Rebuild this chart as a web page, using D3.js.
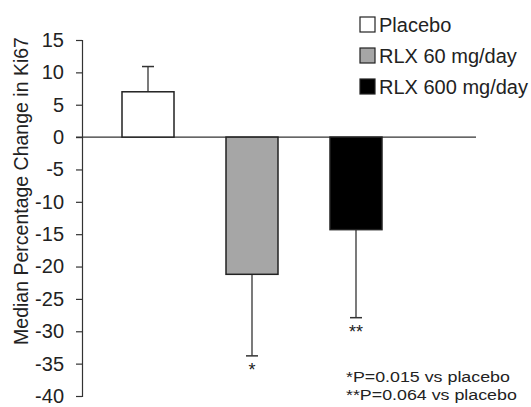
<!DOCTYPE html>
<html lang="en">
<head>
<meta charset="UTF-8">
<title>Median Percentage Change in Ki67</title>
<script src="https://d3js.org/d3.v7.min.js"></script>
<style>
    body { margin: 0; background: #fff; }
    text { font-family: "Liberation Sans", Arial, sans-serif; fill: #222; }
</style>
</head>
<body>
<div id="chart"></div>
<script>
// data
const groups = ["Placebo", "RLX 60 mg/day", "RLX 600 mg/day"];
const medians = [7, -21.2, -14.3];
const errEnds = [10.9, -33.8, -27.9];
const marks = ["", "*", "**"];
const colors = ["#ffffff", "#a6a6a6", "#000000"];
const yTicks = [15, 10, 5, 0, -5, -10, -15, -20, -25, -30, -35, -40];
const notes = ["*P=0.015 vs placebo", "**P=0.064 vs placebo"];

const width = 531, height = 407;

const svg = d3.select("#chart").append("svg")
    .attr("width", width)
    .attr("height", height);

const y = d3.scaleLinear().domain([-40, 15]).range([396, 40]);
const x = d3.scaleBand().domain(groups).range([96, 408])
    .paddingInner(0.5).paddingOuter(0.25);

// y axis (plain hyphen for negatives, like the original)
const axisX = 82;
const yAxis = svg.append("g")
    .attr("transform", `translate(${axisX},0)`)
    .call(d3.axisLeft(y).tickValues(yTicks).tickSize(6).tickPadding(12)
        .tickFormat(d => String(d)));
yAxis.select(".domain").attr("stroke", "#333").attr("stroke-width", 1.2);
yAxis.selectAll(".tick line").attr("stroke", "#333").attr("stroke-width", 1.2);
yAxis.selectAll(".tick text").style("font-size", "20px").attr("fill", "#222");

// zero line
svg.append("line")
    .attr("x1", axisX - 6).attr("x2", 476)
    .attr("y1", y(0)).attr("y2", y(0))
    .attr("stroke", "#333").attr("stroke-width", 1.2);

svg.append("text")
    .attr("transform", "translate(28,191) rotate(-90)")
    .attr("text-anchor", "middle")
    .style("font-size", "19.5px")
    .text("Median Percentage Change in Ki67");

// error bars first, then bars on top
groups.forEach((g, i) => {
    const cx = x(g) + x.bandwidth() / 2;
    svg.append("line")
        .attr("x1", cx).attr("x2", cx)
        .attr("y1", y(medians[i])).attr("y2", y(errEnds[i]))
        .attr("stroke", "#333").attr("stroke-width", 1.3);
    svg.append("line")
        .attr("x1", cx - 6).attr("x2", cx + 6)
        .attr("y1", y(errEnds[i])).attr("y2", y(errEnds[i]))
        .attr("stroke", "#333").attr("stroke-width", 1.5);
    if (marks[i]) {
        svg.append("text")
            .attr("x", cx).attr("y", y(errEnds[i]) + 20)
            .attr("text-anchor", "middle")
            .style("font-size", "18px")
            .attr("fill", "#555")
            .text(marks[i]);
    }
});

svg.selectAll(".bar")
    .data(groups)
    .enter().append("rect")
    .attr("class", "bar")
    .attr("x", d => x(d))
    .attr("width", x.bandwidth())
    .attr("y", (d, i) => y(Math.max(0, medians[i])))
    .attr("height", (d, i) => Math.abs(y(medians[i]) - y(0)))
    .attr("fill", (d, i) => colors[i])
    .attr("stroke", "#222")
    .attr("stroke-width", 1.5);

// legend
const legend = svg.append("g").attr("transform", "translate(360,17)");
groups.forEach((g, i) => {
    const row = legend.append("g").attr("transform", `translate(0,${i * 31})`);
    row.append("rect")
        .attr("width", 15).attr("height", 15)
        .attr("fill", colors[i]).attr("stroke", "#222").attr("stroke-width", 1.2);
    row.append("text")
        .attr("x", 19).attr("y", 14.5)
        .style("font-size", "20px")
        .text(g);
});

// footnotes: the original type is a bit wide, so stretch it horizontally
notes.forEach((n, i) => {
    svg.append("text")
        .attr("transform", `translate(346,${382 + i * 18}) scale(1.15,1)`)
        .style("font-size", "15.5px")
        .text(n);
});
</script>
</body>
</html>
